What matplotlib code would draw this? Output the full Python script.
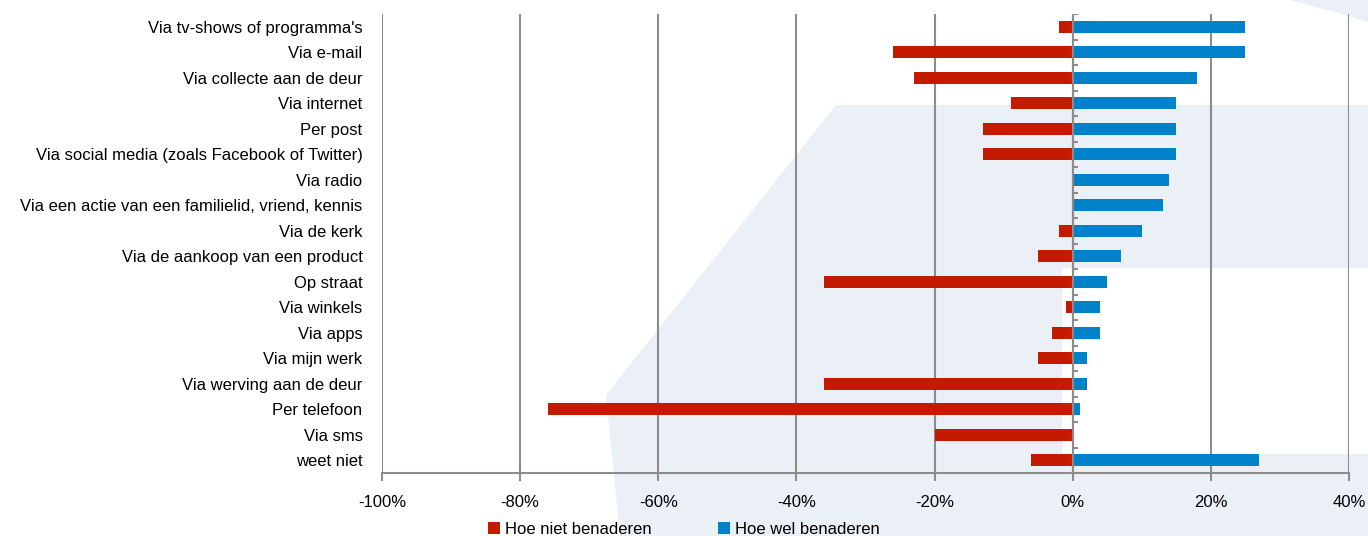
"""Horizontal diverging bar chart: hoe wel / niet benaderen."""
import matplotlib
matplotlib.use("Agg")
import matplotlib.pyplot as plt
from matplotlib.patches import Polygon, Patch
import numpy as np

plt.rcParams["font.family"] = ["Liberation Sans", "DejaVu Sans"]

categories = [
    "Via tv-shows of programma's",
    "Via e-mail",
    "Via collecte aan de deur",
    "Via internet",
    "Per post",
    "Via social media (zoals Facebook of Twitter)",
    "Via radio",
    "Via een actie van een familielid, vriend, kennis",
    "Via de kerk",
    "Via de aankoop van een product",
    "Op straat",
    "Via winkels",
    "Via apps",
    "Via mijn werk",
    "Via werving aan de deur",
    "Per telefoon",
    "Via sms",
    "weet niet",
]
niet_benaderen = [-2, -26, -23, -9, -13, -13, 0, 0, -2, -5, -36, -1, -3, -5, -36, -76, -20, -6]
wel_benaderen = [25, 25, 18, 15, 15, 15, 14, 13, 10, 7, 5, 4, 4, 2, 2, 1, 0, 27]
x_ticks = [-100, -80, -60, -40, -20, 0, 20, 40]
x_labels = [f"{v}%" for v in x_ticks]

RED = "#C41A00"
BLUE = "#0082CA"
GRID = "#8C8C8C"
WASH = "#EBEFF6"

W, H = 1368, 536
fig = plt.figure(figsize=(W / 100, H / 100), dpi=100)


def px(x, y):
    return (x / W, 1 - y / H)


# Background watermark shapes on their own axes behind everything
bg = fig.add_axes([0, 0, 1, 1], zorder=-1)
bg.set_axis_off()
shape = [px(836, 105), px(1368, 105), px(1368, 268), px(1062, 268), px(1062, 454),
         px(1368, 454), px(1368, 536), px(620, 536), px(606, 395)]
bg.add_patch(Polygon(shape, closed=True, transform=fig.transFigure,
                     facecolor=WASH, edgecolor="none"))
corner = [px(1290, 0), px(1368, 0), px(1368, 22), px(1335, 12)]
bg.add_patch(Polygon(corner, closed=True, transform=fig.transFigure,
                     facecolor=WASH, edgecolor="none"))

ax = fig.add_axes([382 / W, 1 - 473 / H, (1349 - 382) / W, (473 - 14) / H], zorder=1)
ax.set_facecolor("none")

y = np.arange(len(categories))
ax.barh(y, niet_benaderen, height=0.48, color=RED, zorder=3)
ax.barh(y, wel_benaderen, height=0.48, color=BLUE, zorder=3)

ax.set_xlim(-100, 40)
ax.set_ylim(len(categories) - 0.5, -0.5)

# Vertical gridlines
for v in x_ticks:
    ax.axvline(v, color=GRID, lw=1.5, zorder=1)

# Zero axis with category tick marks
ax.axvline(0, color=GRID, lw=1.5, zorder=4)
ax.hlines(np.arange(len(categories) + 1) - 0.5, 0, 0.8, color=GRID, lw=1.5, zorder=4)

for s in ["top", "right", "left"]:
    ax.spines[s].set_visible(False)
ax.spines["bottom"].set_color(GRID)
ax.spines["bottom"].set_linewidth(1.5)

ax.set_xticks(x_ticks)
ax.set_xticklabels(x_labels, fontsize=12)
ax.tick_params(axis="x", length=6, width=1.5, color=GRID, pad=10)
ax.set_yticks(y)
ax.set_yticklabels(categories, fontsize=12)
ax.tick_params(axis="y", length=0, pad=14)

handles = [Patch(facecolor=RED, label="Hoe niet benaderen"),
           Patch(facecolor=BLUE, label="Hoe wel benaderen")]
fig.legend(handles=handles, loc="lower center", bbox_to_anchor=(0.5, -0.03), ncol=2,
           frameon=False, fontsize=12, handlelength=0.7, handleheight=0.7,
           handletextpad=0.3, columnspacing=4)

fig.savefig("out.png", dpi=100)
